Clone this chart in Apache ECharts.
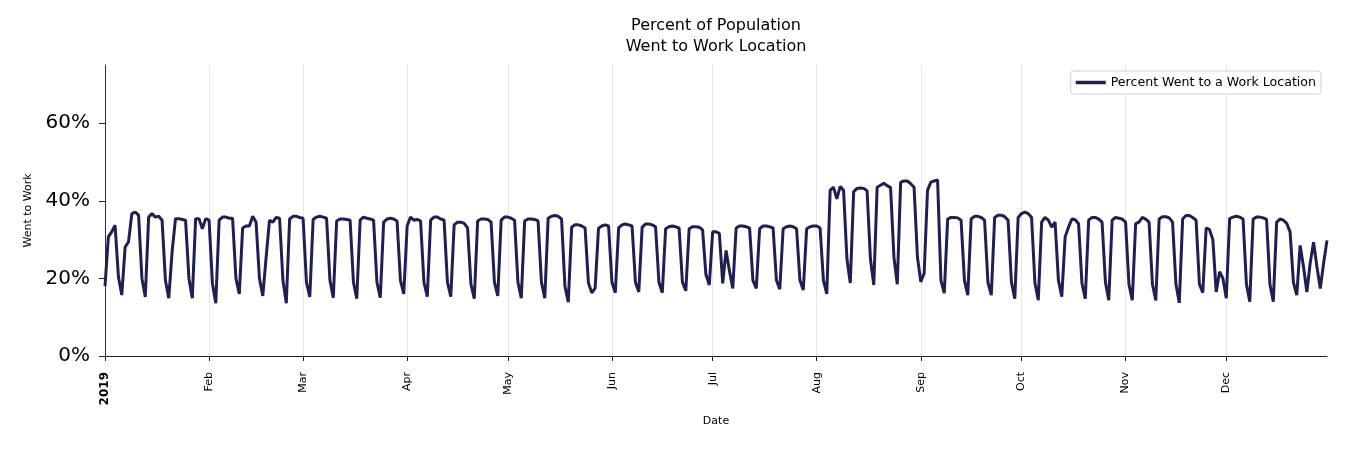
<!DOCTYPE html>
<html><head><meta charset="utf-8">
<script src="https://cdn.jsdelivr.net/npm/echarts@6/dist/echarts.min.js"></script>
<style>html,body{margin:0;padding:0;background:#fff}#c{width:1350px;height:450px}</style>
</head><body><div id="c"></div>
<script>
const year = 2019;
const monthLabels = ['2019','Feb','Mar','Apr','May','Jun','Jul','Aug','Sep','Oct','Nov','Dec'];
const yTicks = [0, 20, 40, 60];

const jan = [18.0, 30.7, 32.0, 33.7, 20.4, 15.7, 28.1, 29.4, 36.7, 37.1, 36.3, 20.0, 15.2, 35.8, 36.7, 35.8, 36.0, 35.0, 19.5, 14.9, 27.0, 35.4, 35.4, 35.2, 35.0, 20.0, 14.9, 35.4, 35.4, 32.8, 35.4];
const feb = [35.0, 18.7, 13.6, 35.0, 35.8, 35.8, 35.5, 35.5, 20.0, 16.0, 33.0, 33.5, 33.5, 36.0, 34.5, 20.0, 15.5, 25.5, 35.0, 34.5, 35.7, 35.5, 19.5, 13.6, 35.3, 36.0, 36.0, 35.7];
const mar = [35.5, 19.0, 15.2, 35.2, 35.8, 36.0, 35.8, 35.5, 19.5, 15.0, 34.8, 35.3, 35.3, 35.2, 35.0, 19.0, 14.8, 35.0, 35.8, 35.5, 35.3, 35.0, 19.0, 15.0, 34.5, 35.3, 35.5, 35.3, 34.8, 19.5, 16.0];
const apr = [33.5, 35.8, 35.0, 35.2, 34.8, 19.0, 15.3, 35.0, 35.8, 35.8, 35.3, 35.0, 19.0, 15.3, 33.8, 34.5, 34.5, 34.2, 33.0, 18.5, 14.8, 34.8, 35.3, 35.3, 35.2, 34.5, 19.0, 15.5, 35.0, 35.8];
const may = [35.8, 35.5, 35.0, 19.0, 14.9, 34.8, 35.3, 35.3, 35.2, 34.8, 19.0, 14.9, 35.5, 36.0, 36.2, 36.0, 35.3, 18.0, 13.9, 33.2, 33.8, 33.8, 33.5, 33.0, 18.8, 16.3, 17.5, 32.9, 33.5, 33.8, 33.5];
const jun = [19.0, 16.3, 33.0, 33.8, 34.0, 33.8, 33.5, 19.0, 16.5, 33.2, 34.0, 34.0, 33.8, 33.3, 19.0, 16.3, 32.8, 33.3, 33.5, 33.3, 33.0, 19.0, 16.8, 32.8, 33.3, 33.3, 33.2, 32.5, 21.0, 18.3];
const jul = [32.0, 32.0, 31.6, 18.7, 27.2, 22.0, 17.4, 33.0, 33.5, 33.5, 33.3, 33.0, 19.5, 17.4, 32.8, 33.5, 33.5, 33.3, 33.0, 19.5, 17.2, 32.8, 33.3, 33.5, 33.3, 32.8, 19.5, 17.0, 32.8, 33.3, 33.5];
const aug = [33.5, 33.0, 19.5, 16.0, 42.7, 43.5, 40.5, 43.7, 42.7, 25.0, 18.8, 42.3, 43.2, 43.3, 43.2, 42.6, 25.0, 18.3, 43.5, 44.0, 44.5, 43.9, 43.4, 25.5, 18.5, 44.8, 45.1, 45.1, 44.4, 43.5, 25.5];
const sep = [19.1, 21.3, 42.7, 44.8, 45.1, 45.4, 19.5, 16.2, 35.3, 35.7, 35.7, 35.6, 35.0, 19.5, 15.7, 35.3, 36.0, 36.0, 35.7, 35.0, 19.0, 15.7, 35.7, 36.3, 36.3, 35.9, 35.0, 19.0, 14.8, 35.7];
const oct = [36.7, 37.1, 36.7, 35.7, 18.8, 14.4, 34.5, 35.7, 35.0, 33.2, 34.5, 19.5, 15.3, 30.7, 33.2, 35.3, 35.1, 34.1, 18.8, 14.8, 35.0, 35.7, 35.7, 35.3, 34.5, 19.0, 14.4, 35.0, 35.7, 35.5, 35.3];
const nov = [34.5, 18.5, 14.4, 34.1, 34.5, 35.7, 35.3, 34.5, 18.5, 14.3, 35.3, 35.9, 35.9, 35.6, 34.5, 18.5, 13.7, 35.3, 36.2, 36.2, 35.7, 35.0, 18.5, 16.3, 33.0, 32.6, 30.0, 16.5, 21.7, 20.0];
const dec = [14.9, 35.4, 35.8, 36.0, 35.8, 35.3, 18.5, 14.0, 35.3, 35.8, 35.8, 35.6, 35.2, 18.5, 14.0, 34.5, 35.3, 35.0, 34.2, 32.0, 19.0, 15.7, 28.5, 23.0, 16.5, 24.0, 29.3, 23.0, 17.4, 24.0, 29.8];

const monthly = [jan, feb, mar, apr, may, jun, jul, aug, sep, oct, nov, dec];
const dates = [];
const values = [];
const monthStart = {};
monthly.forEach((arr, m) => {
  arr.forEach((v, d) => {
    if (d === 0) monthStart[dates.length] = monthLabels[m];
    dates.push(year + '-' + String(m + 1).padStart(2, '0') + '-' + String(d + 1).padStart(2, '0'));
    values.push(v);
  });
});
const isMonthStart = (i) => monthStart[i] !== undefined;

const FONT = 'DejaVu Sans';
const LINE_COLOR = '#1f2050';

const chart = echarts.init(document.getElementById('c'), null, {renderer: 'canvas'});
chart.setOption({
  animation: false,
  backgroundColor: '#fff',
  textStyle: {fontFamily: FONT},
  graphic: [{
    type: 'text', x: 716, y: 15,
    style: {text: 'Percent of Population\nWent to Work Location', fontSize: 16, fontFamily: FONT,
      fill: '#000', align: 'center', verticalAlign: 'top', lineHeight: 21}
  }],
  legend: {
    right: 29, top: 71,
    data: ['Percent Went to a Work Location'],
    icon: 'rect', itemWidth: 30, itemHeight: 3.5,
    padding: [5, 5, 5, 5],
    borderColor: '#d0d0d0', borderWidth: 1, borderRadius: 3,
    backgroundColor: '#fff',
    textStyle: {fontSize: 12.6, fontFamily: FONT, color: '#000', lineHeight: 13}
  },
  grid: {left: 105, right: 23, top: 65, bottom: 94, containLabel: false},
  xAxis: {
    type: 'category', data: dates, boundaryGap: false,
    axisLine: {lineStyle: {color: '#222', width: 1.2}},
    axisTick: {show: true, interval: (i) => isMonthStart(i), length: 5, lineStyle: {color: '#222'}},
    axisLabel: {
      interval: (i) => isMonthStart(i), rotate: 90, fontSize: 11, margin: 16, color: '#000', fontFamily: FONT,
      formatter: (v, i) => i === 0 ? '{b|' + monthLabels[0] + '}' : monthStart[i],
      rich: {b: {fontWeight: 'bold', fontSize: 12, fontFamily: FONT, color: '#000'}}
    },
    splitLine: {show: true, interval: (i) => isMonthStart(i), lineStyle: {color: '#e6e6e6', width: 1}},
    name: 'Date', nameLocation: 'middle', nameGap: 60,
    nameTextStyle: {fontSize: 11, fontFamily: FONT, color: '#000'}
  },
  yAxis: {
    type: 'value', min: 0, max: 75, interval: 20,
    axisLine: {show: true, lineStyle: {color: '#333', width: 1}},
    axisTick: {show: true, length: 6, customValues: yTicks, lineStyle: {color: '#222'}},
    axisLabel: {customValues: yTicks, formatter: '{value}%', fontSize: 20, margin: 15, color: '#000', fontFamily: FONT},
    splitLine: {show: false},
    name: 'Went to Work', nameLocation: 'middle', nameGap: 71, nameRotate: 90,
    nameTextStyle: {fontSize: 11, fontFamily: FONT, color: '#000'}
  },
  series: [{
    name: 'Percent Went to a Work Location',
    type: 'line', data: values, showSymbol: false, symbol: 'none',
    lineStyle: {width: 3, color: LINE_COLOR}, itemStyle: {color: LINE_COLOR}
  }]
});
</script>
</body></html>
